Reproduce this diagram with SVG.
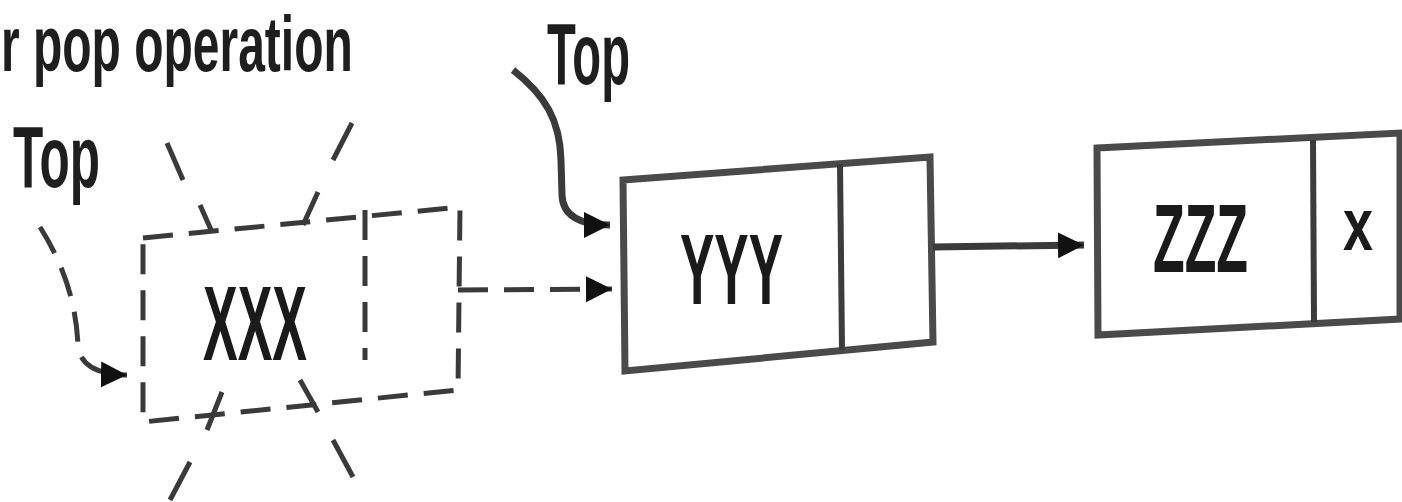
<svg xmlns="http://www.w3.org/2000/svg" width="1402" height="502" viewBox="0 0 1402 502">
<defs>
<style>
.lbl{font-family:"Liberation Sans",Arial,sans-serif;fill:#1e1e1e;font-weight:bold;}
.val{font-family:"Liberation Sans",Arial,sans-serif;fill:#1a1a1a;font-weight:bold;}
.box{fill:#ffffff;stroke:#4a4a4a;stroke-width:7;stroke-linejoin:miter;}
.div{stroke:#3c3c3c;stroke-width:6;fill:none;}
.dash{stroke:#3a3a3a;stroke-width:5;fill:none;stroke-dasharray:30 16;}
.ray{stroke:#3a3a3a;stroke-width:5;fill:none;stroke-linecap:butt;}
.conn{stroke:#3a3a3a;stroke-width:7;fill:none;}
</style>
<marker id="ah" markerUnits="userSpaceOnUse" markerWidth="28" markerHeight="28" refX="26" refY="13" orient="auto">
<path d="M0,0 L26,13 L0,26 z" fill="#111"/>
</marker>
</defs>
<rect x="0" y="0" width="1402" height="502" fill="#ffffff"/>

<g id="title">
<text class="lbl" transform="translate(1,71) scale(0.615,1)" x="0" y="0" font-size="78" textLength="572" lengthAdjust="spacingAndGlyphs">r pop operation</text>
</g>

<g id="top-old">
<text class="lbl" x="13" y="187" font-size="88" textLength="87" lengthAdjust="spacingAndGlyphs">Top</text>
</g>

<g id="top-new">
<text class="lbl" x="547" y="84" font-size="88" textLength="83" lengthAdjust="spacingAndGlyphs">Top</text>
</g>

<g id="node-xxx">
<polygon class="dash" points="143,238 460,207 458,390 143,422"/>
<line class="dash" x1="365" y1="210" x2="365" y2="360"/>
<text class="val" x="203" y="360" font-size="106" textLength="104" lengthAdjust="spacingAndGlyphs">XXX</text>
<g id="burst">
<line class="ray" x1="167" y1="143" x2="183" y2="180"/>
<line class="ray" x1="200" y1="205" x2="212" y2="232"/>
<line class="ray" x1="352" y1="123" x2="333" y2="160"/>
<line class="ray" x1="318" y1="192" x2="303" y2="225"/>
<line class="ray" x1="190" y1="462" x2="170" y2="500"/>
<line class="ray" x1="222" y1="392" x2="207" y2="430"/>
<line class="ray" x1="300" y1="380" x2="318" y2="412"/>
<line class="ray" x1="333" y1="440" x2="353" y2="477"/>
</g>
</g>

<g id="node-yyy">
<polygon class="box" points="623,180 930,157 933,342 625,371"/>
<line class="div" x1="840" y1="164" x2="842" y2="350"/>
<text class="val" x="680" y="304" font-size="100" textLength="103" lengthAdjust="spacingAndGlyphs">YYY</text>
</g>

<g id="node-zzz">
<polygon class="box" points="1097,148 1400,133 1400,319 1098,335"/>
<line class="div" x1="1313" y1="140" x2="1314" y2="322"/>
<text class="val" x="1153" y="272" font-size="96" textLength="95" lengthAdjust="spacingAndGlyphs">ZZZ</text>
<text class="val" x="1343" y="250" font-size="75" font-weight="normal" fill="#444" textLength="30" lengthAdjust="spacingAndGlyphs">x</text>
</g>

<g id="connectors">
<path class="dash" d="M40,227 C62,262 76,300 78,345 Q80,374 127,375" stroke-dasharray="36 22" marker-end="url(#ah)"/>
<path class="conn" d="M513,70 C545,95 560,120 561,160 L562,195 Q563,225 610,225" marker-end="url(#ah)"/>
<line class="dash" x1="458" y1="290" x2="612" y2="289" stroke-dasharray="26 14" marker-end="url(#ah)"/>
<line class="conn" x1="933" y1="247" x2="1084" y2="245" marker-end="url(#ah)"/>
</g>
</svg>
